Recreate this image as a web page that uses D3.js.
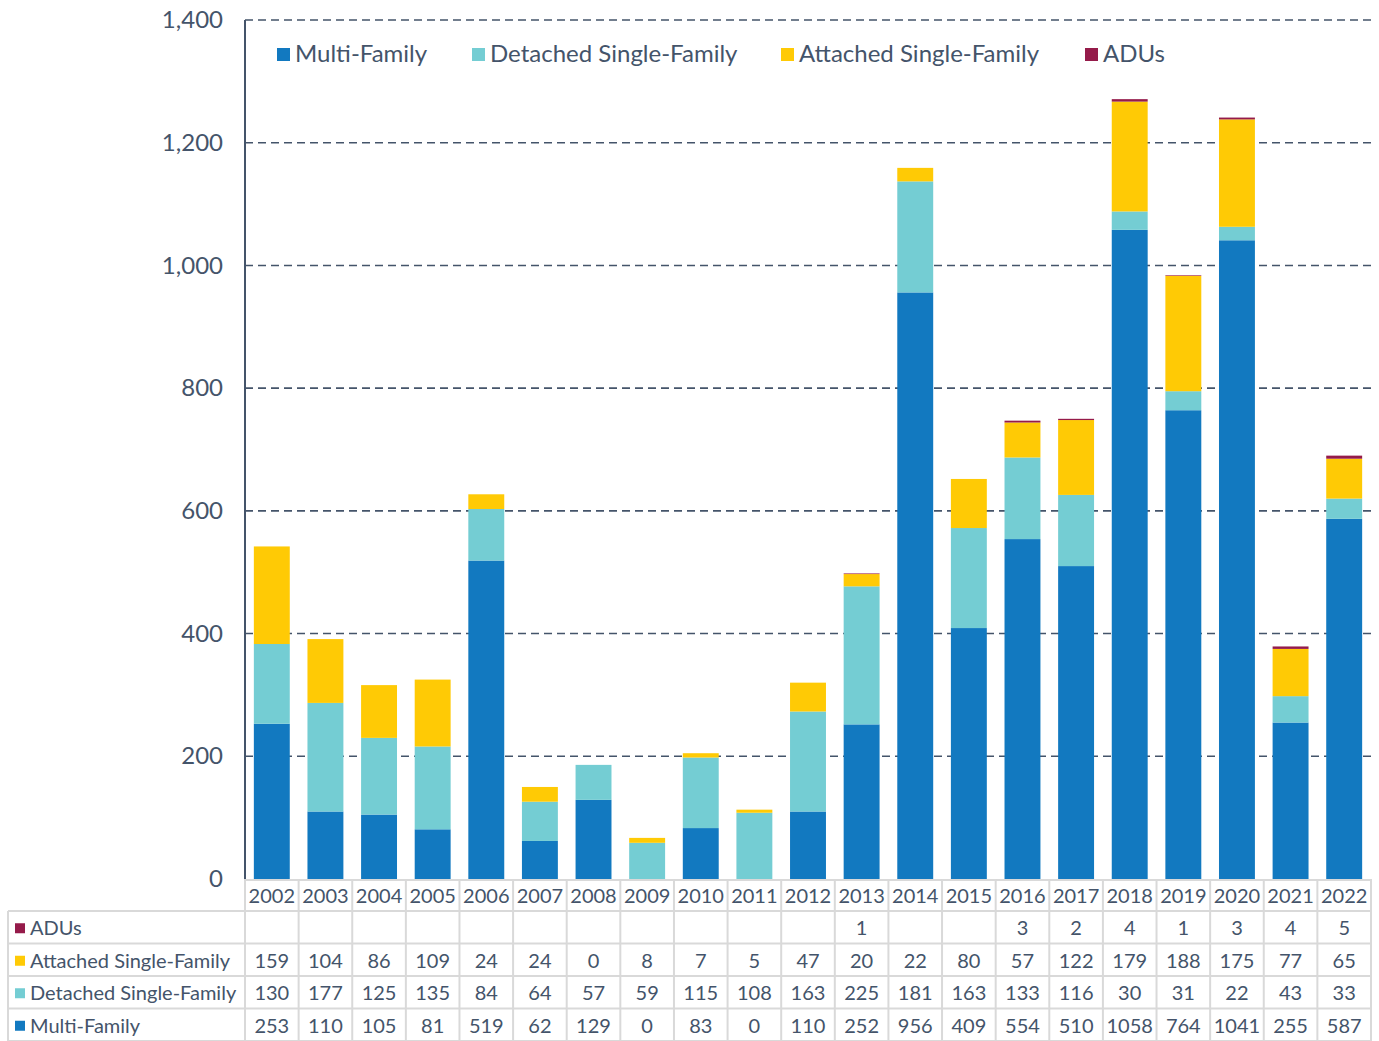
<!DOCTYPE html>
<html>
<head>
<meta charset="utf-8">
<script src="https://cdn.jsdelivr.net/npm/d3@7"></script>
<style>
  body { margin: 0; background: #fff; }
  text { font-family: Lato, "Open Sans", sans-serif; fill: #44546A; }
</style>
</head>
<body>
<div id="chart"></div>
<script>
  const years = ['2002','2003','2004','2005','2006','2007','2008','2009','2010','2011','2012',
    '2013','2014','2015','2016','2017','2018','2019','2020','2021','2022'];
  const multiFamily = [253,110,105,81,519,62,129,0,83,0,110,252,956,409,554,510,1058,764,1041,255,587];
  const detachedSF = [130,177,125,135,84,64,57,59,115,108,163,225,181,163,133,116,30,31,22,43,33];
  const attachedSF = [159,104,86,109,24,24,0,8,7,5,47,20,22,80,57,122,179,188,175,77,65];
  const adus = [null,null,null,null,null,null,null,null,null,null,null,1,null,null,3,2,4,1,3,4,5];
  const yTicks = [0,200,400,600,800,1000,1200,1400];

  const seriesNames = ['Multi-Family','Detached Single-Family','Attached Single-Family','ADUs'];
  const colors = { 'Multi-Family': '#1279C0', 'Detached Single-Family': '#74CDD3',
    'Attached Single-Family': '#FFCA05', 'ADUs': '#951B4A' };
  const values = { 'Multi-Family': multiFamily, 'Detached Single-Family': detachedSF,
    'Attached Single-Family': attachedSF, 'ADUs': adus };

  const W = 1379, H = 1041;
  const plotLeft = 245, plotRight = 1371, plotTop = 20, plotBottom = 879;
  const tableLeft = 8, headerBottom = 911, rowH = 32.5;

  const rows = years.map((yr, i) => {
    const r = { year: yr };
    seriesNames.forEach(k => r[k] = values[k][i] || 0);
    return r;
  });

  const svg = d3.select('#chart').append('svg')
    .attr('width', W).attr('height', H);

  const x = d3.scaleBand().domain(years).range([plotLeft, plotRight]).paddingInner(0.33).paddingOuter(0.165);
  const xCol = d3.scaleBand().domain(years).range([plotLeft, plotRight]);
  const y = d3.scaleLinear().domain([0, 1400]).range([plotBottom, plotTop]);

  // gridlines
  svg.append('g')
    .selectAll('line')
    .data(yTicks.filter(d => d > 0))
    .join('line')
    .attr('x1', plotLeft).attr('x2', plotRight)
    .attr('y1', d => y(d)).attr('y2', d => y(d))
    .attr('stroke', '#44546A')
    .attr('stroke-width', 1.6)
    .attr('stroke-dasharray', '8,5');

  // y axis labels
  const yAxis = svg.append('g')
    .attr('transform', `translate(${plotLeft},0)`)
    .call(d3.axisLeft(y).tickValues(yTicks).tickSize(0).tickPadding(22).tickFormat(d3.format(',')));
  yAxis.select('.domain').remove();
  yAxis.selectAll('text').attr('font-size', 24).style('font-family', 'Lato').attr('fill', '#44546A');

  // stacked bars
  const stack = d3.stack().keys(seriesNames);
  const series = stack(rows);

  svg.append('g')
    .selectAll('g')
    .data(series)
    .join('g')
    .attr('fill', d => colors[d.key])
    .selectAll('rect')
    .data(d => d)
    .join('rect')
    .attr('x', d => x(d.data.year))
    .attr('width', x.bandwidth())
    .attr('y', d => y(d[1]))
    .attr('height', d => y(d[0]) - y(d[1]));

  // y axis line
  svg.append('line')
    .attr('x1', plotLeft).attr('x2', plotLeft)
    .attr('y1', plotTop).attr('y2', plotBottom)
    .attr('stroke', '#44546A').attr('stroke-width', 2);

  // legend
  const legendItems = [
    { key: 'Multi-Family', x: 277 },
    { key: 'Detached Single-Family', x: 472 },
    { key: 'Attached Single-Family', x: 781 },
    { key: 'ADUs', x: 1085 }
  ];
  const legend = svg.append('g').selectAll('g').data(legendItems).join('g')
    .attr('transform', d => `translate(${d.x},54)`);
  legend.append('rect').attr('x', 0).attr('y', -6).attr('width', 13).attr('height', 13)
    .attr('fill', d => colors[d.key]);
  legend.append('text').attr('x', 18).attr('y', 0).attr('dy', '0.35em')
    .attr('font-size', 24).text(d => d.key);

  // data table
  const grid = '#D9D9D9';
  const table = svg.append('g');
  const tableRows = ['ADUs','Attached Single-Family','Detached Single-Family','Multi-Family'];

  // horizontal lines
  table.append('line').attr('x1', plotLeft).attr('x2', plotRight).attr('y1', plotBottom + 1).attr('y2', plotBottom + 1)
    .attr('stroke', grid).attr('stroke-width', 2);
  d3.range(tableRows.length + 1).forEach(i => {
    table.append('line').attr('x1', tableLeft).attr('x2', plotRight)
      .attr('y1', headerBottom + i * rowH).attr('y2', headerBottom + i * rowH)
      .attr('stroke', grid).attr('stroke-width', 2);
  });
  // vertical lines
  table.append('line').attr('x1', tableLeft).attr('x2', tableLeft)
    .attr('y1', headerBottom).attr('y2', H).attr('stroke', grid).attr('stroke-width', 2);
  years.concat(['end']).forEach(yr => {
    const xv = yr === 'end' ? plotRight : xCol(yr);
    table.append('line').attr('x1', xv).attr('x2', xv)
      .attr('y1', plotBottom).attr('y2', H).attr('stroke', grid).attr('stroke-width', 2);
  });

  // year header
  table.append('g').selectAll('text').data(years).join('text')
    .attr('x', d => xCol(d) + xCol.bandwidth() / 2)
    .attr('y', (plotBottom + headerBottom) / 2 + 1)
    .attr('dy', '0.35em')
    .attr('text-anchor', 'middle')
    .attr('font-size', 20)
    .text(d => d);

  // row labels and values
  tableRows.forEach((k, ri) => {
    const cy = headerBottom + ri * rowH + rowH / 2 + 1;
    table.append('rect').attr('x', 15).attr('y', cy - 5).attr('width', 10).attr('height', 10)
      .attr('fill', colors[k]);
    table.append('text').attr('x', 30).attr('y', cy).attr('dy', '0.35em')
      .attr('font-size', 20).text(k);
    table.append('g').selectAll('text').data(values[k]).join('text')
      .attr('x', (d, i) => xCol(years[i]) + xCol.bandwidth() / 2)
      .attr('y', cy).attr('dy', '0.35em')
      .attr('text-anchor', 'middle')
      .attr('font-size', 20)
      .text(d => d === null ? '' : d);
  });
</script>
</body>
</html>
